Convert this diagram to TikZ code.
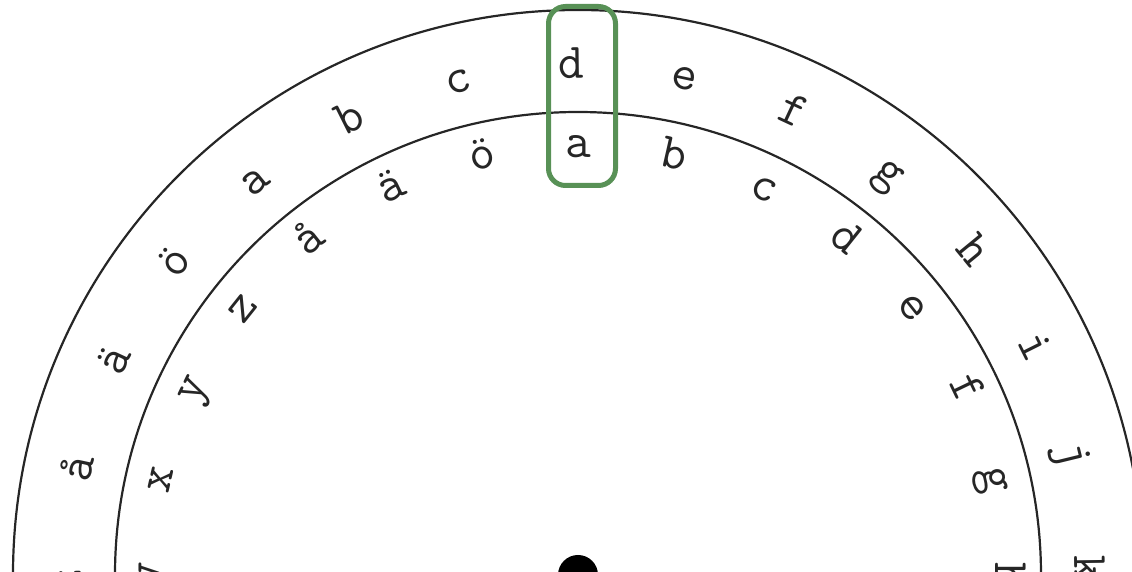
\documentclass[tikz,border=0pt]{standalone}
\usepackage{fontspec}
\definecolor{selgreen}{RGB}{88,145,86}
\begin{document}
\begin{tikzpicture}[x=1pt,y=1pt,
  ring/.style={draw=black!85,line width=2.2pt},
  letter/.style={font=\ttfamily\fontsize{50}{60}\selectfont,text=black!85,inner sep=0pt,anchor=base},
  selbox/.style={draw=selgreen,line width=5pt,rounded corners=17pt,minimum width=67pt,minimum height=179pt,inner sep=0pt}]
\useasboundingbox (-578,3) rectangle (554,575);
\clip (-578,3) rectangle (554,575);
\draw[ring] (0,0) circle (565);
\draw[ring] (0,0) circle (463);
\fill[black] (0,0) circle (20);
\foreach \l [count=\i from 0] in {a,b,c,d,e,f,g,h,i,j,k,l,m,n,o,p,q,r,s,t,u,v,x,y,z,å,ä,ö}{
  \pgfmathsetmacro{\ao}{90.8-(\i-3)*360/28}
  \pgfmathsetmacro{\ai}{90-\i*360/28}
  \node[letter,rotate=\ao-90] (o\i) at (\ao:497) {\l};
  \node[letter,rotate=\ai-90] (n\i) at (\ai:417) {\l};
}
\node[selbox] (sel) at (4,479) {};
\end{tikzpicture}
\end{document}
